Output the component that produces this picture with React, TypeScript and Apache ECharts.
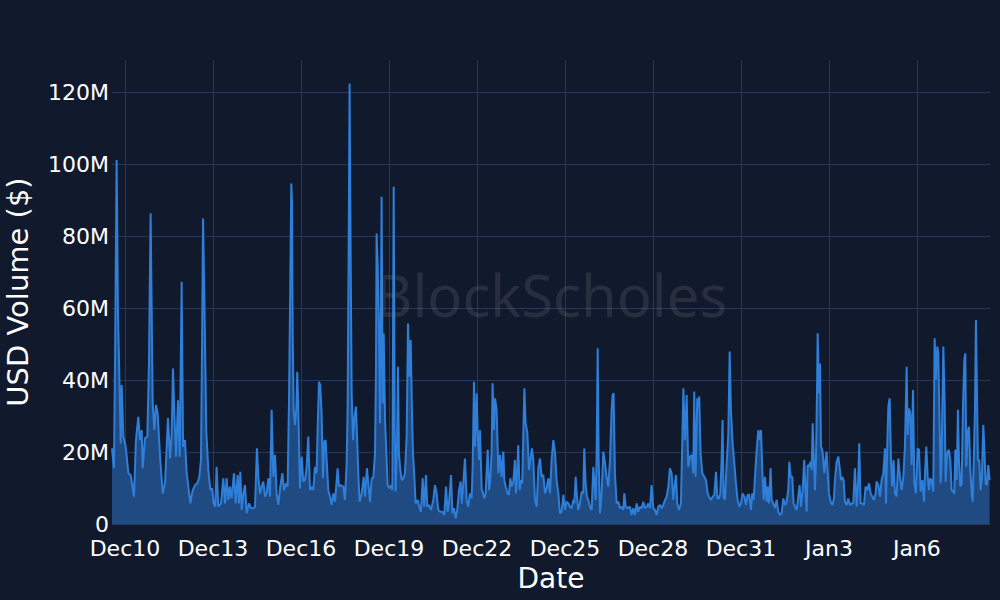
import React, { useEffect, useRef } from "react";
import * as echarts from "echarts";

// Hours since the first sample (Dec 9, ~13:24)
const hoursFromStart = [
  0, 1.6, 2.5, 3.8, 4.9, 6.0, 7.1, 7.9, 9.3, 11.2, 13.4, 15.3, 18, 19.6, 21.5, 22.9, 24.3, 25.1, 27, 28.9,
  30.3, 31.6, 33.3, 34.6, 36, 37.4, 39.3, 41.5, 43.4, 45.8, 47.5, 48.8, 49.9, 51, 52.4, 54, 55.4, 57, 58.1, 59.7,
  61.1, 64.1, 65.7, 67.9, 69.8, 71.5, 72.8, 73.6, 74.5, 75.5, 77.2, 78.8, 80.5, 81.8, 83.2, 84.5, 85.6, 87,
  89.2, 91.1, 92.5, 93.8, 95.2, 96.5, 97.9, 99.8, 101.2, 102.8, 103.9, 105, 106.1, 107.5, 108.8, 110.2, 112.1, 113.7, 115.6, 117,
  118.6, 119.7, 121.1, 122.5, 123.8, 125.2, 126.5, 127.9, 129.3, 130.6, 132, 133.4, 134.7, 136.1, 137.7, 139.4, 140.7, 142.4, 143.7,
  144.8, 145.9, 146.7, 147.3, 147.8, 148.6, 149.7, 150.8, 151.6, 152.4, 153.8, 155.2, 156.5, 157.9, 159.3, 160.6, 162, 163.4, 164.7,
  166.1, 167.4, 168.3, 169.4, 170.4, 171.5, 172.6, 173.7, 174.8,
  175.6, 177, 178.4, 179.7, 181.1, 182.5, 184.6, 185.7, 187.1, 189.3, 190.6, 192, 192.8, 193.6, 194.4, 195.3, 196.1, 197.2, 198.3,
  199.6, 200.7, 201.5, 202.6, 204.3, 205.9, 207, 208.6, 209.7, 211.1, 212.5, 213.8, 215.2, 216, 216.5, 217.4, 218.2, 219.3, 220.1,
  220.6, 221.5, 222.3, 223.4, 224.5, 225.5, 226.9, 228.3, 229.4, 230.5, 231.3, 232.1, 233.2, 234, 234.8, 235.9, 237, 238.4, 239.7,
  241.1, 242.2, 243.3, 244.4, 245.4, 246.3, 247.4, 248.4, 250.1, 251.4, 252.8, 254.2, 255.5, 256.9, 258, 259.3, 261, 262.9, 264.3,
  265.6, 267, 268.4, 270.3, 271.9, 273.3, 274.6, 275.7, 277.4, 278.5, 279.8, 281.2, 282.5, 283.9, 285.3, 286.1, 287.5, 288.8, 290.2,
  291.5, 292.9, 294.3, 295.1, 296.2, 297, 298.4, 299.2, 300.3, 301.1, 302.5, 303.3, 304.6, 305.7, 306.5, 307.4, 308.5, 309.3, 310.6,
  311.4, 312.5, 313.4, 314.7, 316.1, 317.5, 318.8, 320.2, 321, 322.1, 323.7, 324.8, 325.9, 327, 328.4, 329.7, 330.5, 331.4, 332.4,
  333.5, 334.6, 335.7, 336.5, 337.4, 338.4, 339.8, 341.2, 342.5, 343.6, 344.7, 346.1, 347.5, 348.8, 350.2, 351.5, 352.9, 354.3,
  355.6, 357, 358.4, 359.7, 361.1, 362.5, 363.8, 365.2, 366.5, 367.9, 369.3, 370.6, 372, 373.4, 374.7, 376.1, 377.5, 378.3, 379.4,
  380.2, 381.5, 382.9, 384.3, 385.6, 386.4, 387.5, 388.6, 389.7, 391.1, 392.5, 393.8, 394.6, 395.7, 396.5, 397.4, 398.2, 399.3, 400.6,
  402, 403.4, 404.7, 406.1, 407.5, 408.8, 409.6, 410.4, 411.5, 412.9, 414.3, 415.6, 417, 418.4, 419.2, 420.3, 421.9, 423.8, 425.2,
  426.5, 427.9, 429.3, 430.6, 432, 433.4, 434.7, 436.1, 437.4, 438.8, 440.2, 441.5, 442.9, 444.3,
  445.6, 447, 448.4, 449.7, 451.1, 452.5, 453.8, 455.2, 456.5, 457.9, 459.3, 460.6, 461.5, 462.5, 463.9, 465.5, 466.6, 467.5, 468.8,
  470.2, 471.5, 472.9, 474.3, 475.6, 476.4, 477.5, 478.9, 479.7, 480.5, 481.6, 483, 484.6, 486, 487.4, 488.5, 490.1, 491.5, 492.8,
  494.2, 495.3, 496.6, 497.7, 498.8, 499.6, 500.4, 501.5, 502.9, 504.3, 505.4, 506.4, 507.8, 509.2, 510.5, 511.9, 513.3, 514.6, 516,
  517.4, 518.7, 520.1, 521.4, 522.8, 523.9, 525, 526.1, 527.4, 528.8, 530.2, 531, 532.1, 533.2, 534.3,
  535.6, 536.4, 537.5, 538.9, 539.7, 541.1, 542.5, 543.8, 545.2, 546.5, 547.9, 549.3, 550.6, 552, 553.4, 554.2, 555.3, 556.6, 557.7,
  558.8, 560.2, 561.5, 562.6, 563.7, 565.1, 566.4, 567.5, 568.4, 569.2, 570.3, 571.4, 572.5, 573.3, 574.1, 575.2, 576, 576.8, 577.4,
  578.5, 579.3, 580.1, 581.2, 582, 582.8, 583.9, 584.7, 585.5, 586.6, 588, 589.6, 590.7, 591.5, 592.9, 594.3, 595.6, 596.4, 597.5,
  598.6, 599.7, 601.1, 602.4, 603.8, 605.2, 606.5, 607.9, 609.3, 610.6, 611.4, 612.5, 613.9, 615.3, 616.6, 618, 619.4, 620.7, 622.1,
  623.4, 624.8,
  625.6, 627, 628.4, 629.7, 631.1, 632.5, 633.3, 634.4, 635.2, 636.3, 637.4, 638.4, 639.5, 640.6, 642, 643.4, 644.7, 646.1, 647.5,
  648.8, 650.2, 651, 652.1, 653.2, 654.3, 655.4, 656.5, 657.8, 659.2, 660.3, 661.6, 663, 664.4, 665.2, 666.3, 667.4, 668.5, 669.5,
  670.6, 672, 673.1, 674.2, 675.3, 676.1, 677.2, 678, 678.8, 680.2, 681.3, 682.1, 682.9, 683.7, 684.8, 685.9, 687, 688.4, 689.2,
  690, 691.1, 692.2, 693, 694.1, 695.2, 696.3, 697.4, 698.2, 699, 700.1, 701.2, 702.3, 703.4, 704.2, 705, 706.1, 706.9, 707.7,
  708.5, 709.6, 710.7, 711.8, 712.9, 713.7, 714.8, 715.9, 717, 718.1,
];

// USD volume in millions
const volumeM = [
  21.0, 15.5, 45.6, 101.1, 58.5, 41, 22.4, 38.6, 24.3, 21.5, 14.1, 13.6, 7.6, 23.3, 29.8, 23.3, 26.1, 15.5, 23.8, 24.3,
  45.6, 86.3, 33.5, 26.1, 33.1, 30.7, 18.7, 8.5, 11.3, 29.4, 18.2, 24.7, 43.2, 30.7, 18.7, 34.4, 18.7, 67.3, 21.5, 23.3,
  14.1, 5.7, 9, 10.8, 11.3, 13.1, 17.8, 46.5, 84.9, 64, 25.6, 15, 9.4, 9.9, 5.7, 4.8, 15.9, 4.8,
  5.7, 12.7, 5.7, 12.7, 6.7, 10.4, 7.1, 14.1, 5.7, 13.6, 5.7, 14.5, 3.9, 8.5, 10.8, 3, 5.7, 4.4, 4.4, 4.8,
  21, 13.1, 8.5, 10.4, 11.8, 7.6, 8.5, 12.7, 7.6, 31.7, 13.1, 19.2, 8.5, 5.3, 10.4, 14.1, 9.4, 11.3, 10.4,
  33.5, 67.8, 94.6, 89.1, 54.8, 31.7, 27.5, 32.1, 42.3, 32.6, 9.9, 18.7, 11.8, 12.2, 15.9, 24.3, 9.4, 10.4, 9.4,
  15.9, 14.1, 27, 39.5, 38.6, 30.7, 12.7, 22.9, 23.3,
  17.8, 9.4, 7.6, 5.3, 8.5, 6.2, 15.5, 10.4, 10.8, 10.4, 6.7, 16.9, 32.6, 73.3, 122.4, 73.3, 36.3, 23.3, 29.4,
  32.6, 22.4, 14.1, 6.2, 8.5, 13.1, 7.6, 15.5, 11.3, 6.2, 12.7, 12.7, 19.6, 42.8, 80.7, 71.5, 58.5, 28, 61.3,
  90.9, 33.5, 53, 28.9, 19.6, 10.8, 9.9, 10.8, 9.4, 93.7, 27, 9, 22.4, 43.7, 19.6, 15, 12.2, 12.7, 14.1,
  24.3, 55.7, 40.9, 51.1, 31.7, 19.6, 13.1, 5.7, 6.7, 4.8, 3.4, 12.7, 4.8, 13.6, 4.8, 5.3, 3.9, 6.7, 10.8,
  8.5, 3.9, 3.4, 3.4, 2.5, 10.4, 3.4, 5.7, 13.6, 3, 4.4, 1.6, 3.9, 9.4, 11.8, 5.7, 11.3, 18.2, 6.7,
  4.8, 8.5, 7.1, 15.9, 39.5, 21.5, 36.3, 25.2, 17.8, 26.1, 9.4, 9, 7.1, 8.5, 14.1, 20.6, 9.4, 11.3, 19.6,
  39.1, 26.1, 34.9, 31.7, 14.1, 19.2, 13.1, 20.1, 12.2, 10.4, 8.5, 8.1, 12.7, 10.4, 11.8, 17.8, 8.5, 13.1, 21.9,
  9.4, 12.2, 11.3, 24.3, 37.7, 28, 25.6, 15, 18.2, 21, 17.8, 6.7, 4.8, 15.5, 18.2, 13.1, 13.6, 8.5,
  9.9, 12.7, 8.5, 17.8, 23.3, 19.6, 12.2, 8.5, 3, 3.4, 8.1, 3.9, 6.2, 5.7, 4.8, 4.4, 6.7, 5.7, 13.1,
  8.5, 3.9, 5.7, 9, 8.5, 21, 11.3, 7.6, 6.7, 4.8, 3.9, 15.9, 12.2, 6.7, 17.8, 48.8, 17.8, 3, 8.5,
  20.1, 16.9, 13.1, 10.4, 17.8, 31.7, 35.8, 36.3, 14.1, 5.7, 6.2, 4.4, 4.8, 3.9, 8.5, 4.8, 4.4, 4.8, 2.5,
  4.4, 2.5, 5.7, 3.4, 4.8, 4.4, 6.2, 4.4, 4.8, 5.7, 4.4, 10.8, 4.4, 3.9,
  2.5, 4.8, 5.3, 4.4, 5.3, 6.7, 7.6, 10.4, 15.5, 14.1, 6.7, 11.3, 13.6, 5.7, 3.9, 5.7, 22.4, 37.7, 23.3,
  35.8, 15.9, 18.7, 19.2, 14.1, 36.8, 13.1, 34.9, 32.6, 35.4, 19.6, 14.1, 13.1, 12.2, 8.5, 7.6, 6.7, 7.6, 8.1,
  14.5, 7.1, 7.1, 8.5, 17.8, 28.9, 7.6, 6.7, 16.4, 25.2, 47.9, 31.7, 22.4, 16.9, 11.3, 6.7, 4.8, 5.7, 8.5,
  7.6, 5.3, 8.1, 8.1, 3.9, 8.5, 6.7, 13.1, 20.1, 26.1, 23.3, 26.1, 15, 6.7, 13.1,
  6.2, 10.4, 5.7, 15.5, 6.7, 5.7, 4.4, 6.7, 3.4, 2.5, 3, 7.1, 5.3, 6.2, 9.9, 17.3, 13.1, 13.1, 5.7,
  4.8, 3.9, 7.6, 10.8, 4.8, 9.4, 17.8, 8.5, 3.4, 16.4, 15.9, 17.3, 15, 28, 19.6, 9.4, 17.8, 35.4, 53,
  36.3, 44.6, 21.5, 20.6, 17.8, 14.1, 17.8, 20.1, 15, 8.5, 6.2, 5.3, 7.1, 12.2, 17.3, 18.7, 15, 12.2, 13.1,
  12.2, 6.2, 5.3, 7.1, 5.3, 5.7, 5.7, 15.5, 4.8, 12.2, 22.4, 5.7, 5.7, 5.3, 10.4, 9.4, 11.3, 8.5, 7.6,
  6.7, 8.5,
  11.8, 10.8, 7.6, 12.2, 14.1, 21, 5.7, 22.4, 32.6, 34.9, 17.8, 10.4, 17.8, 8.5, 7.6, 18.2, 13.1, 9.4, 13.1,
  21.5, 43.7, 24.7, 32.1, 30.7, 16.4, 37.2, 11.3, 8.5, 21, 20.6, 9, 12.2, 6.2, 14.1, 21.5, 13.1, 9.4, 12.7,
  12.2, 9, 51.6, 40, 49.3, 47.4, 27, 11.3, 17.8, 49.3, 33.5, 11.8, 17.8, 20.1, 20.6, 17.8, 9.4, 9, 8.5,
  20.6, 12.2, 31.7, 17.8, 10.4, 11.3, 32.6, 45.6, 47.4, 15.9, 25.6, 27, 15, 8.5, 6.2, 15.9, 31.7, 56.7, 37.2,
  17.8, 17.8, 9.4, 13.1, 27.5, 21.5, 11.3, 10.8, 16.4, 12.2,
];

const xTickDayOffsets = [0, 3, 6, 9, 12, 15, 18, 21, 24, 27]; // days after Dec 10
const xTickLabels = ["Dec10", "Dec13", "Dec16", "Dec19", "Dec22", "Dec25", "Dec28", "Dec31", "Jan3", "Jan6"];
const yTicks = [0, 20, 40, 60, 80, 100, 120];
const yTickLabels = ["0", "20M", "40M", "60M", "80M", "100M", "120M"];

// x axis in hours relative to Dec 10 00:00
const START_OFFSET_H = -10.6;
const SPAN_H = 718.4;
const Y_MAX = 128.9;

const FONT = "DejaVu Sans";

export default function App() {
  const ref = useRef<HTMLDivElement>(null);

  useEffect(() => {
    if (!ref.current) return;
    const chart = echarts.init(ref.current, null, { renderer: "svg" });
    const data = hoursFromStart.map((h, i) => [START_OFFSET_H + h, volumeM[i]]);
    const xTickVals = xTickDayOffsets.map((d) => d * 24);
    const xLabelFor = (v: number) => {
      const i = xTickVals.findIndex((t) => Math.abs(t - v) < 0.01);
      return i >= 0 ? xTickLabels[i] : "";
    };
    const yLabelFor = (v: number) => {
      const i = yTicks.findIndex((t) => Math.abs(t - v) < 1e-6);
      return i >= 0 ? yTickLabels[i] : "";
    };

    chart.setOption({
      animation: false,
      backgroundColor: "#111a2d",
      grid: { left: 112, right: 10, top: 60, bottom: 76, containLabel: false, outerBoundsMode: "none" },
      xAxis: {
        type: "value",
        min: START_OFFSET_H,
        max: START_OFFSET_H + SPAN_H,
        name: "Date",
        nameLocation: "middle",
        nameGap: 40,
        nameTextStyle: { color: "#ffffff", fontSize: 28, fontFamily: FONT },
        axisLine: { show: false },
        axisTick: { show: false, customValues: xTickVals },
        axisLabel: {
          customValues: xTickVals,
          formatter: (v: number) => xLabelFor(v),
          color: "#ffffff",
          fontSize: 22,
          lineHeight: 22,
          fontFamily: FONT,
          margin: 13,
          hideOverlap: false,
        },
        splitLine: { show: true, lineStyle: { color: "#263760", width: 1 } },
      },
      yAxis: {
        type: "value",
        min: 0,
        max: Y_MAX,
        name: "USD Volume ($)",
        nameLocation: "middle",
        nameRotate: 90,
        nameGap: 80,
        nameTextStyle: { color: "#ffffff", fontSize: 29, fontFamily: FONT },
        axisLine: { show: false },
        axisTick: { show: false, customValues: yTicks },
        axisLabel: {
          customValues: yTicks,
          formatter: (v: number) => yLabelFor(v),
          color: "#ffffff",
          fontSize: 22,
          lineHeight: 17,
          fontFamily: FONT,
          margin: 3,
        },
        splitLine: { show: true, lineStyle: { color: "#263760", width: 1 } },
      },
      series: [
        {
          type: "line",
          data,
          symbol: "none",
          showSymbol: false,
          lineStyle: { color: "#2f7ed8", width: 2 },
          itemStyle: { color: "#2f7ed8" },
          areaStyle: { color: "#1f4a82", opacity: 1 },
        },
      ],
      graphic: [
        {
          type: "text",
          x: 551,
          y: 294,
          z: 100,
          silent: true,
          style: {
            text: "BlockScholes",
            fill: "rgba(130,130,130,0.2)",
            fontSize: 58,
            fontFamily: "Noto Sans",
            align: "center",
            verticalAlign: "middle",
          },
        },
      ],
    });

    return () => chart.dispose();
  }, []);

  return (
    <div
      ref={ref}
      style={{ position: "absolute", left: 0, top: 0, width: 1000, height: 600 }}
    />
  );
}
